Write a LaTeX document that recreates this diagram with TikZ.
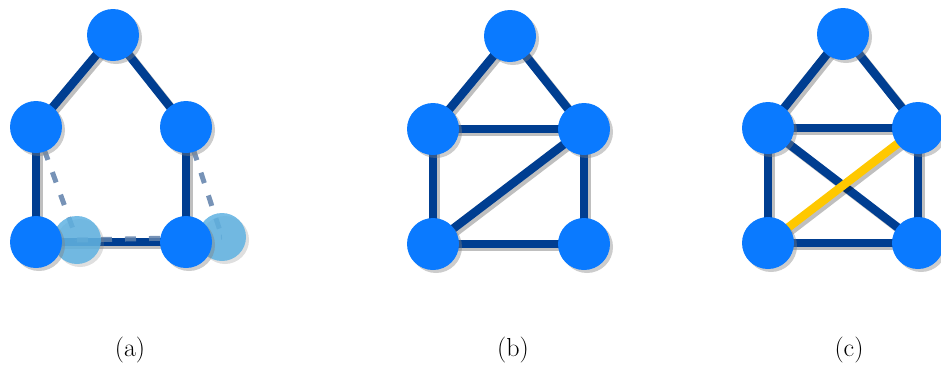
\documentclass[tikz,border=0pt]{standalone}
\usepackage{tikz}
\usetikzlibrary{shadows, backgrounds}
\definecolor{vtxblue}{RGB}{10,122,255}
\definecolor{edgeblue}{RGB}{0,62,145}
\definecolor{swapyellow}{RGB}{255,200,0}
\definecolor{ghostblue}{RGB}{95,178,226}
\definecolor{dashgray}{RGB}{95,128,170}

\begin{document}
\begin{tikzpicture}[x=1pt, y=-1pt, font=\fontsize{26}{30}\selectfont,
  vtx/.style={circle, fill=vtxblue, minimum size=52pt, inner sep=0pt,
    drop shadow={shadow xshift=3pt, shadow yshift=-3pt, opacity=0.4}},
  ghost/.style={circle, fill=ghostblue, fill opacity=0.85, minimum size=48pt, inner sep=0pt,
    drop shadow={shadow xshift=3pt, shadow yshift=-3pt, opacity=0.25}},
  edge/.style={draw=edgeblue, line width=8.5pt,
    preaction={draw=black, opacity=0.25, line width=8.5pt, transform canvas={shift={(3pt,-3pt)}}}},
  swap/.style={edge, draw=swapyellow},
  moved/.style={draw=dashgray, line width=5pt, dash pattern=on 11pt off 13pt, opacity=0.85},
  caption/.style={anchor=base}]
\useasboundingbox (0,0) rectangle (941,365);
% (a)
\node[ghost] (ga) at (77,240) {};
\node[ghost] (gb) at (222,237) {};
\node[vtx] (a1) at (113,35) {};
\node[vtx] (a2) at (36,127) {};
\node[vtx] (a3) at (186,127) {};
\node[vtx] (a4) at (36,242) {};
\node[vtx] (a5) at (186,242) {};
% (b)
\node[vtx] (b1) at (510,36) {};
\node[vtx] (b2) at (433,129) {};
\node[vtx] (b3) at (584,129) {};
\node[vtx] (b4) at (433,244) {};
\node[vtx] (b5) at (584,244) {};
% (c)
\node[vtx] (c1) at (843,34) {};
\node[vtx] (c2) at (768,128) {};
\node[vtx] (c3) at (918,128) {};
\node[vtx] (c4) at (768,243) {};
\node[vtx] (c5) at (918,243) {};
\begin{scope}[on background layer]
\draw[edge] (a1.center) -- (a2.center);
\draw[edge] (a1.center) -- (a3.center);
\draw[edge] (a2.center) -- (a4.center);
\draw[edge] (a3.center) -- (a5.center);
\draw[edge] (a4.center) -- (a5.center);
\draw[moved] (a2.center) -- (ga.center);
\draw[moved] (a3.center) -- (gb.center);
\draw[moved] (ga.center) -- (gb.center);
\draw[edge] (b1.center) -- (b2.center);
\draw[edge] (b1.center) -- (b3.center);
\draw[edge] (b2.center) -- (b3.center);
\draw[edge] (b2.center) -- (b4.center);
\draw[edge] (b3.center) -- (b5.center);
\draw[edge] (b4.center) -- (b5.center);
\draw[edge] (b4.center) -- (b3.center);
\draw[edge] (c1.center) -- (c2.center);
\draw[edge] (c1.center) -- (c3.center);
\draw[edge] (c2.center) -- (c3.center);
\draw[edge] (c2.center) -- (c4.center);
\draw[edge] (c3.center) -- (c5.center);
\draw[edge] (c4.center) -- (c5.center);
\draw[edge] (c2.center) -- (c5.center);
\draw[swap] (c4.center) -- (c3.center);
\end{scope}
\node[caption] (la) at (130,356) {(a)};
\node[caption] (lb) at (513,356) {(b)};
\node[caption] (lc) at (849,356) {(c)};
\end{tikzpicture}
\end{document}
